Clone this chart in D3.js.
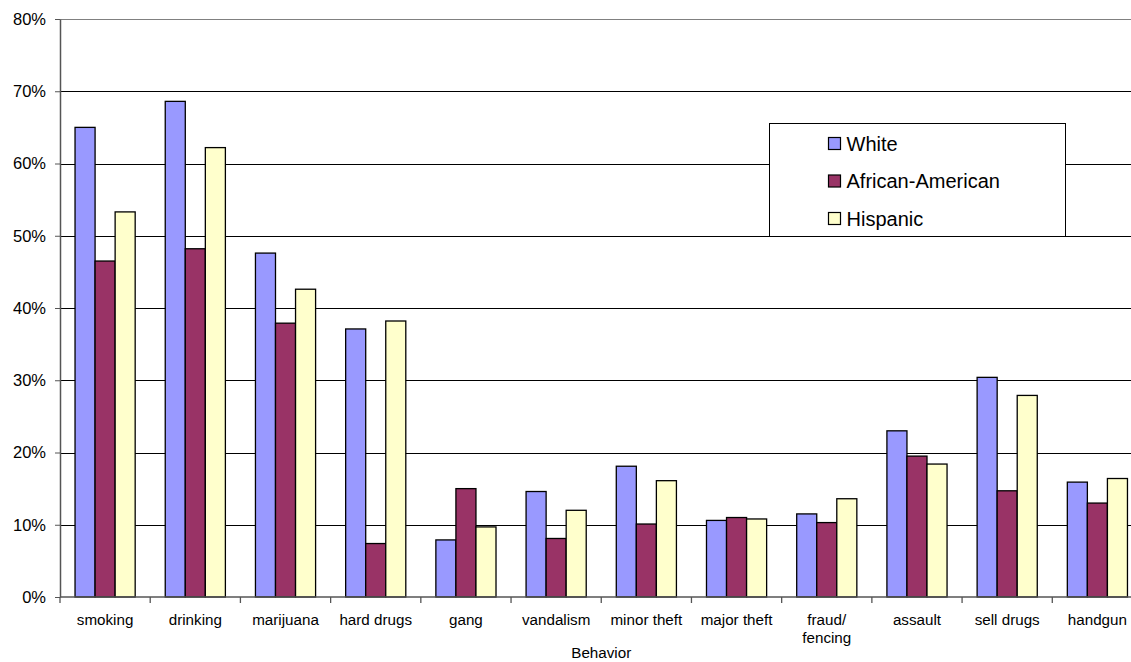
<!DOCTYPE html>
<html><head><meta charset="utf-8">
<script src="https://cdn.jsdelivr.net/npm/d3@7"></script>
<style>html,body{margin:0;padding:0;background:#fff;overflow:hidden}svg{display:block;font-family:"Liberation Sans",Arial,sans-serif}</style>
</head><body>
<svg id="chart" width="1131" height="662"></svg>
<script>
const categories = ["smoking","drinking","marijuana","hard drugs","gang","vandalism","minor theft","major theft","fraud/\nfencing","assault","sell drugs","handgun"];
const seriesNames = ["White","African-American","Hispanic"];
const white    = [65.0, 68.6, 47.6, 37.1, 7.9, 14.6, 18.1, 10.6, 11.5, 23.0, 30.4, 15.9];
const africanAmerican = [46.5, 48.2, 37.9, 7.4, 15.0, 8.1, 10.1, 11.0, 10.3, 19.5, 14.7, 13.0];
const hispanic = [53.3, 62.2, 42.6, 38.2, 9.7, 12.0, 16.1, 10.8, 13.6, 18.4, 27.9, 16.4];
const yTicks = [0,10,20,30,40,50,60,70,80];
const colors = ["#9999FF","#993366","#FFFFCC"];
const xTitle = "Behavior";

(function(){
const seriesValues = [white, africanAmerican, hispanic];
const svg = d3.select("#chart");
const pL = 60, pR = 1142.5, pT = 19, pB = 597;

const x0 = d3.scaleBand().domain(categories).range([pL, pR]).padding(0);
const bw = x0.bandwidth();
const x1 = d3.scaleBand().domain(seriesNames).range([bw/6, bw*5/6]).padding(0);
const y = d3.scaleLinear().domain([0,80]).range([pB, pT]);

// gridlines
svg.append("g").selectAll("line").data(yTicks.filter(d=>d>0)).join("line")
  .attr("x1", pL).attr("x2", 1131)
  .attr("y1", d=>Math.round(y(d))+0.5).attr("y2", d=>Math.round(y(d))+0.5)
  .attr("stroke", d=> d===80 ? "#808080" : "#000").attr("stroke-width", 1);

// bars
const groups = svg.append("g").selectAll("g").data(categories).join("g")
  .attr("transform", c=>`translate(${x0(c)},0)`);
groups.selectAll("rect").data((c,i)=>seriesNames.map((s,j)=>({s, v: seriesValues[j][i], j})))
  .join("rect")
  .attr("x", d=>x1(d.s)).attr("width", x1.bandwidth())
  .attr("y", d=>y(d.v)).attr("height", d=>pB - y(d.v))
  .attr("fill", d=>colors[d.j]).attr("stroke", "#000").attr("stroke-width", 1.3);

// y axis
const yAxis = d3.axisLeft(y).tickValues(yTicks).tickFormat(d=>d+"%").tickSize(5).tickSizeOuter(0);
const ya = svg.append("g").attr("transform", `translate(${pL},0)`).call(yAxis);
ya.select(".domain").attr("stroke", "#555").attr("stroke-width", 1.5);
ya.selectAll(".tick line").attr("stroke", "#555");
ya.selectAll(".tick text").attr("font-size", 16.5).attr("fill", "#000").attr("font-family", "Liberation Sans, Arial, sans-serif").attr("x", -14);

// x axis
const xa = svg.append("g").attr("transform", `translate(0,${pB})`);
xa.append("line").attr("x1", pL).attr("x2", 1131).attr("y1", 0).attr("y2", 0).attr("stroke", "#555").attr("stroke-width", 1.5);
xa.selectAll("line.tk").data(categories.map(c=>x0(c)).concat([pR])).join("line").attr("class","tk")
  .attr("x1", d=>d).attr("x2", d=>d).attr("y1", 0).attr("y2", 6).attr("stroke", "#555").attr("stroke-width", 1.3);
const labels = xa.selectAll("text").data(categories).join("text")
  .attr("x", c=>x0(c)+bw/2).attr("y", 28)
  .attr("text-anchor", "middle").attr("font-size", 15.2).attr("fill", "#000");
labels.each(function(c){
  const lines = c.split("\n");
  d3.select(this).selectAll("tspan").data(lines).join("tspan")
    .attr("x", x0(c)+bw/2).attr("dy", (d,i)=> i===0 ? 0 : 18).text(d=>d);
});

svg.append("text").attr("x", (pL+pR)/2).attr("y", 658).attr("text-anchor","middle")
  .attr("font-size", 15.2).text(xTitle);

// legend
const lg = svg.append("g");
lg.append("rect").attr("x", 769.5).attr("y", 123.5).attr("width", 296).attr("height", 113)
  .attr("fill", "#fff").attr("stroke", "#000").attr("stroke-width", 1);
const items = lg.selectAll("g").data(seriesNames).join("g")
  .attr("transform", (d,i)=>`translate(828,${143.5 + i*37.5})`);
items.append("rect").attr("x", 0.5).attr("y", -6).attr("width", 12).attr("height", 12)
  .attr("fill", (d,i)=>colors[i]).attr("stroke", "#000").attr("stroke-width", 1.2);
items.append("text").attr("x", 18.5).attr("y", 0).attr("dy", "0.35em")
  .attr("font-size", 20).text(d=>d);
})();
</script>
</body></html>
